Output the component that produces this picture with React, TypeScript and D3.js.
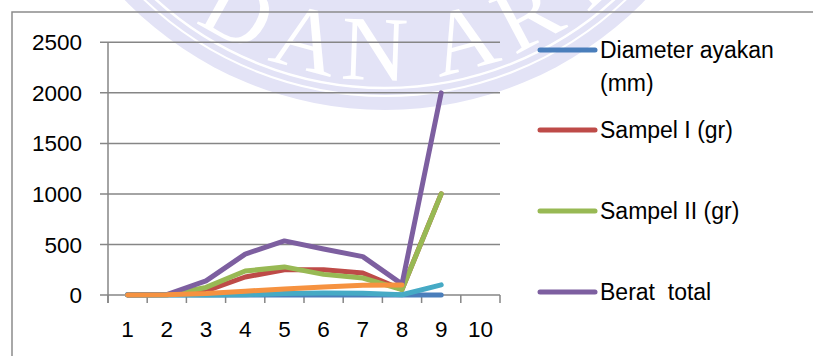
import React, { useEffect, useRef } from 'react'
import * as d3 from 'd3'

const categories = ['1', '2', '3', '4', '5', '6', '7', '8', '9', '10']
const yTicks = [0, 500, 1000, 1500, 2000, 2500]

const diameter = [4.75, 2.36, 1.18, 0.6, 0.3, 0.15, 0.075, 0, 0]
const sampel1 = [0, 2, 40, 178, 250, 250, 217, 55, 1000]
const sampel2 = [0, 3, 75, 237, 278, 204, 168, 53, 1000]
const beratTotal = [0, 5, 140, 405, 535, 455, 380, 108, 2000]
const series5 = [0, 0, 0, 3, 15, 20, 18, 2, 100]
const series6: (number | null)[] = [0, 2, 14, 38, 60, 80, 96, 100, null]

const seriesNames = ['Diameter ayakan (mm)', 'Sampel I (gr)', 'Sampel II (gr)', 'Berat  total', 'Series5', 'Series6']
const seriesColors = ['#4a7ebb', '#be4b48', '#98b954', '#7d5fa0', '#46aac5', '#f69240']
const legendLines = [['Diameter ayakan', '(mm)'], ['Sampel I (gr)'], ['Sampel II (gr)'], ['Berat  total']]
const watermarkLetters = ['M', 'E', 'D', 'A', 'N', 'A', 'R', 'E', 'A']
const watermarkAngles = [-60, -45, -29, -15, -2, 15, 28, 42, 56]

export default function App() {
  const ref = useRef<SVGSVGElement>(null)

  useEffect(() => {
    const width = 813
    const height = 356
    const svg = d3.select(ref.current)
    svg.selectAll('*').remove()
    svg.attr('width', width).attr('height', height)

    const font = "'Liberation Sans', Arial, sans-serif"

    /* watermark (seal behind the chart) */
    const cx = 385
    const cy = -253
    const wm = svg.append('g')
    wm.append('circle').attr('cx', cx).attr('cy', cy).attr('r', 363).attr('fill', '#e3e3f6')
    wm.append('circle').attr('cx', cx).attr('cy', cy).attr('r', 341)
      .attr('fill', 'none').attr('stroke', '#fff').attr('stroke-width', 2.5)
    wm.append('circle').attr('cx', cx).attr('cy', cy).attr('r', 349)
      .attr('fill', 'none').attr('stroke', '#fff').attr('stroke-width', 2)
    watermarkLetters.forEach((l, i) => {
      const a = watermarkAngles[i]
      const rad = (a * Math.PI) / 180
      const r = 333
      wm.append('text')
        .attr('transform', `translate(${cx + r * Math.sin(rad)},${cy + r * Math.cos(rad)}) rotate(${-a})`)
        .attr('text-anchor', 'middle')
        .attr('font-family', "'Liberation Serif', 'Times New Roman', serif")
        .attr('font-size', 92)
        .attr('fill', '#fff')
        .text(l)
    })

    /* outer border */
    svg.append('path')
      .attr('d', `M12,${height} L12,12 L${width},12`)
      .attr('fill', 'none').attr('stroke', '#8c8c8c').attr('stroke-width', 1.5)

    const left = 108
    const right = 500
    const top = 42.3
    const bottom = 295

    const x = d3.scaleBand().domain(categories).range([left, right]).padding(0)
    const y = d3.scaleLinear().domain([0, 2500]).range([bottom, top])

    /* gridlines + y ticks */
    const grid = svg.append('g')
    yTicks.forEach((t) => {
      grid.append('line')
        .attr('x1', left - 8).attr('x2', right)
        .attr('y1', y(t)).attr('y2', y(t))
        .attr('stroke', '#868686').attr('stroke-width', 1.5)
      grid.append('text')
        .attr('x', 82).attr('y', y(t)).attr('dy', '0.36em')
        .attr('text-anchor', 'end')
        .attr('font-family', font).attr('font-size', 22.5).attr('fill', '#000')
        .text(t)
    })
    grid.append('line')
      .attr('x1', left).attr('x2', left)
      .attr('y1', top).attr('y2', bottom + 8)
      .attr('stroke', '#868686').attr('stroke-width', 1.5)

    /* x ticks */
    for (let i = 0; i <= categories.length; i++) {
      const xx = left + i * x.bandwidth()
      grid.append('line')
        .attr('x1', xx).attr('x2', xx)
        .attr('y1', bottom).attr('y2', bottom + 8)
        .attr('stroke', '#868686').attr('stroke-width', 1.5)
    }
    categories.forEach((c) => {
      grid.append('text')
        .attr('x', (x(c) as number) + x.bandwidth() / 2).attr('y', 337)
        .attr('text-anchor', 'middle')
        .attr('font-family', font).attr('font-size', 22.5).attr('fill', '#000')
        .text(c)
    })

    /* lines */
    const allSeries = [diameter, sampel1, sampel2, beratTotal, series5, series6]
    const line = d3.line<number | null>()
      .defined((d) => d !== null)
      .x((_, i) => (x(categories[i]) as number) + x.bandwidth() / 2)
      .y((d) => y(d as number))

    const lines = svg.append('g')
    allSeries.forEach((s, i) => {
      lines.append('path')
        .attr('d', line(s as (number | null)[]))
        .attr('fill', 'none')
        .attr('stroke', seriesColors[i])
        .attr('stroke-width', 5)
        .attr('stroke-linecap', 'round')
        .attr('stroke-linejoin', 'round')
        .attr('data-name', seriesNames[i])
    })

    /* legend */
    const legendY = [50, 130, 211, 292]
    const legend = svg.append('g')
    legendLines.forEach((ls, i) => {
      legend.append('line')
        .attr('x1', 540).attr('x2', 595)
        .attr('y1', legendY[i]).attr('y2', legendY[i])
        .attr('stroke', seriesColors[i]).attr('stroke-width', 5)
        .attr('stroke-linecap', 'round')
      ls.forEach((t, j) => {
        legend.append('text')
          .attr('x', 600).attr('y', legendY[i] + j * 33).attr('dy', '0.36em')
          .attr('font-family', font).attr('font-size', 23).attr('fill', '#000')
          .style('white-space', 'pre')
          .text(t)
      })
    })
  }, [])

  return (
    <svg ref={ref} style={{ position: 'absolute', left: 0, top: 0, display: 'block' }} />
  )
}
